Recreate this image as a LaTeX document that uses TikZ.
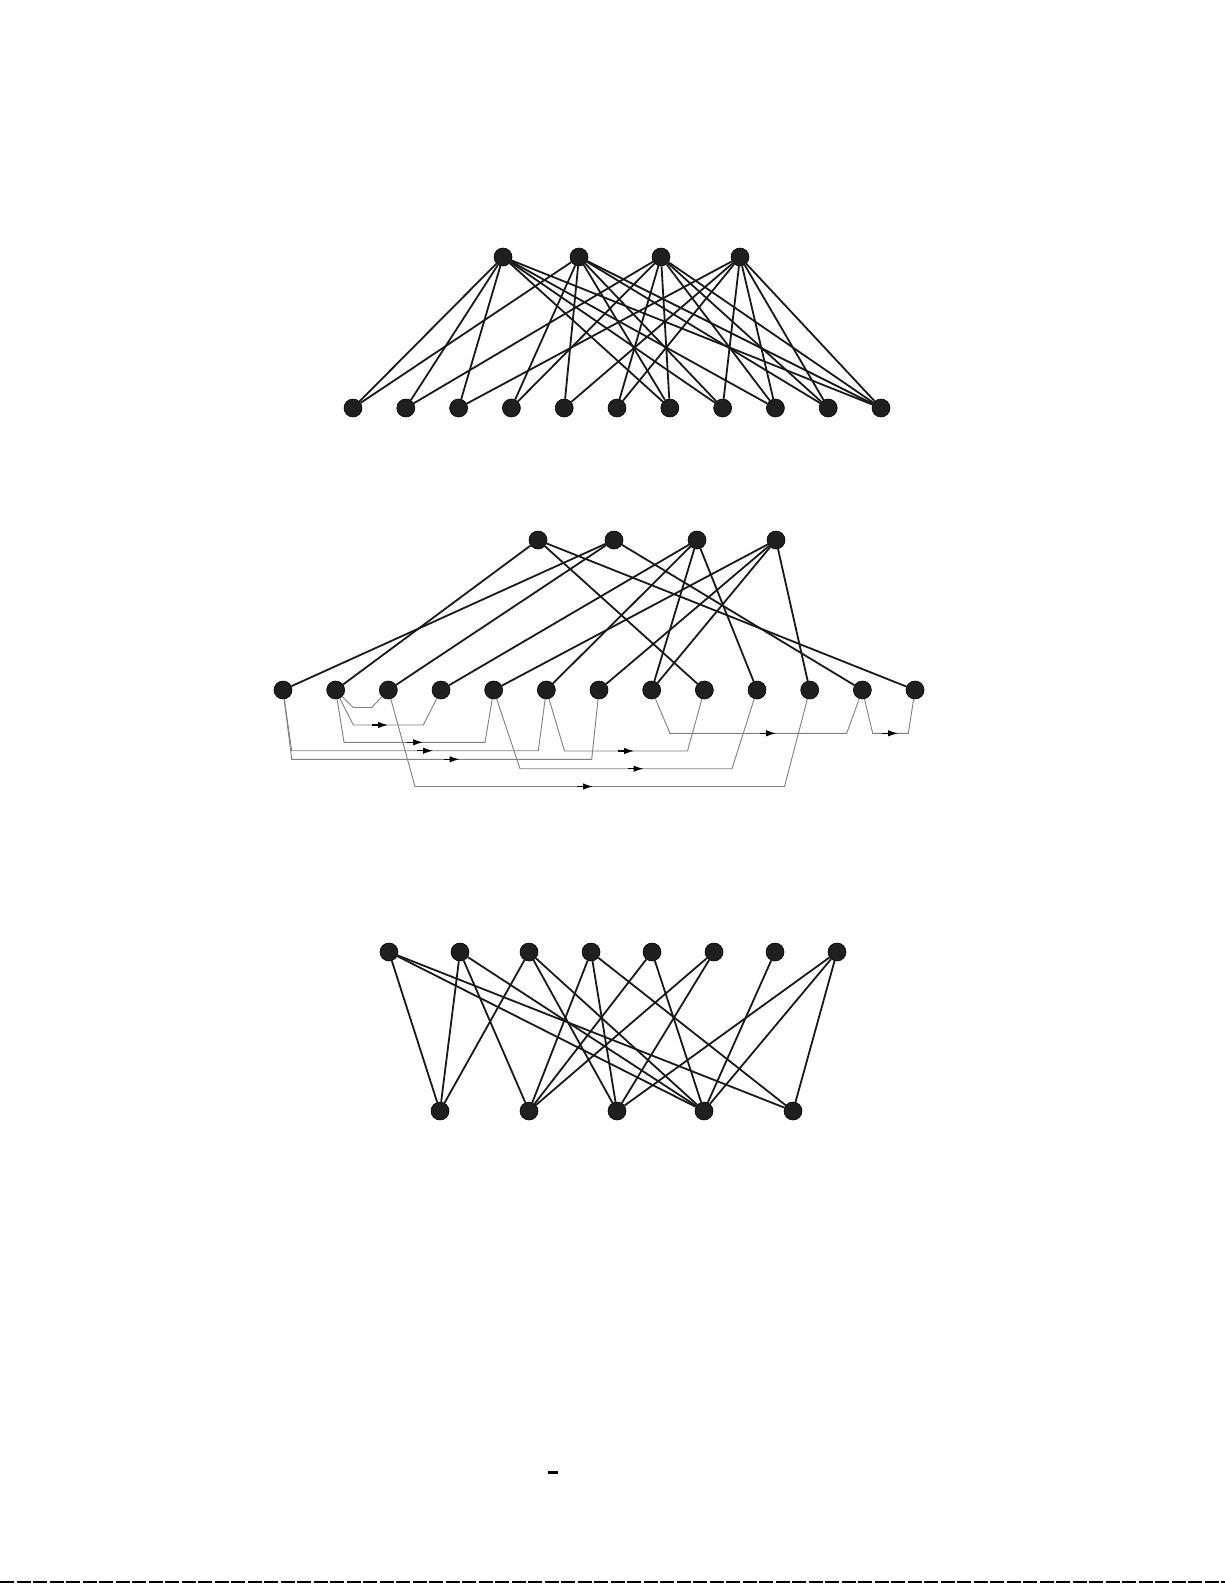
\documentclass[tikz,border=0pt]{standalone}
\usetikzlibrary{arrows.meta}
\begin{document}
\begin{tikzpicture}[x=1pt,y=-1pt,
  dot/.style={circle,fill=black!88,draw=black,line width=0.6pt,minimum size=18pt,inner sep=0pt},
  edge/.style={line width=1.8pt,black!90},
  thinln/.style={line width=0.9pt,black!50},
  marr/.style={line width=1.2pt,black,-{Latex[length=10pt,width=6.5pt]}}]
\useasboundingbox (0,0) rectangle (1225,1585);

% ---------- top graph ----------
\foreach \i/\x in {1/503,2/579,3/661,4/740}
  \node[dot] (T\i) at (\x,257) {};
\foreach \i in {1,...,11}
  \node[dot] (B\i) at ({353+52.8*(\i-1)},408) {};
\foreach \t/\b in {1/1,2/1, 1/2,3/2, 1/3,4/3, 2/4,3/4, 2/5,4/5, 3/6,4/6,
                   1/7,2/7,3/7, 1/8,2/8,4/8, 1/9,3/9,4/9, 2/10,3/10,4/10,
                   1/11,2/11,3/11,4/11}
  \draw[edge] (T\t) -- (B\b);

% ---------- middle graph ----------
\foreach \i/\x in {1/538,2/614,3/697,4/776}
  \node[dot] (U\i) at (\x,540) {};
\foreach \i in {1,...,13}
  \node[dot] (M\i) at ({283+52.67*(\i-1)},690) {};
\foreach \t/\b in {1/2,1/9,1/13, 2/1,2/3,2/12, 3/4,3/6,3/8,3/10, 4/5,4/7,4/8,4/11}
  \draw[edge] (U\t) -- (M\b);

\draw[thinln] (M2) -- (353.3,707.5) -- (371.7,707.5) -- (M3);
\draw[thinln] (M2) -- (353.3,725) -- (423.3,725) -- (M4);
\draw[thinln] (M2) -- (344,742.3) -- (485,742.3) -- (M5);
\draw[thinln] (M1) -- (291.7,750.7) -- (538.3,750.7) -- (M6);
\draw[thinln] (M1) -- (291.7,759.3) -- (591.7,759.3) -- (M7);
\draw[thinln] (M3) -- (415,786.5) -- (784.5,786.5) -- (M11);
\draw[thinln] (M5) -- (520,768.7) -- (732,768.7) -- (M10);
\draw[thinln] (M6) -- (564.5,751) -- (687.5,751) -- (M9);
\draw[thinln] (M8) -- (670,733.3) -- (846.7,733.3) -- (M12);
\draw[thinln] (M12) -- (872.7,733.3) -- (908.3,733.3) -- (M13);

\draw[marr] (372,725) -- (388,725);
\draw[marr] (407,742.3) -- (423,742.3);
\draw[marr] (417,750.7) -- (433,750.7);
\draw[marr] (443.5,759.3) -- (459.5,759.3);
\draw[marr] (577,786.5) -- (593,786.5);
\draw[marr] (627.5,768.7) -- (643.5,768.7);
\draw[marr] (618,751) -- (634,751);
\draw[marr] (760,733.3) -- (776,733.3);
\draw[marr] (882,733.3) -- (898,733.3);

% ---------- bottom graph ----------
\foreach \i/\x in {1/389,2/460,3/529,4/591,5/652,6/714,7/775,8/837}
  \node[dot] (V\i) at (\x,952) {};
\foreach \i/\x in {1/440,2/529,3/617,4/704,5/793}
  \node[dot] (W\i) at (\x,1111) {};
\foreach \t/\b in {1/1,1/4,1/5, 2/1,2/2,2/4, 3/1,3/3,3/4, 4/2,4/3,4/5,
                   5/2,5/4, 6/2,6/3, 7/4, 8/3,8/4,8/5}
  \draw[edge] (V\t) -- (W\b);

% ---------- page marks ----------
\fill[black] (548,1471) rectangle (558,1474);
\draw[line width=1.1pt,dash pattern=on 14pt off 2.5pt] (0,1582) -- (1225,1582);
\end{tikzpicture}
\end{document}
